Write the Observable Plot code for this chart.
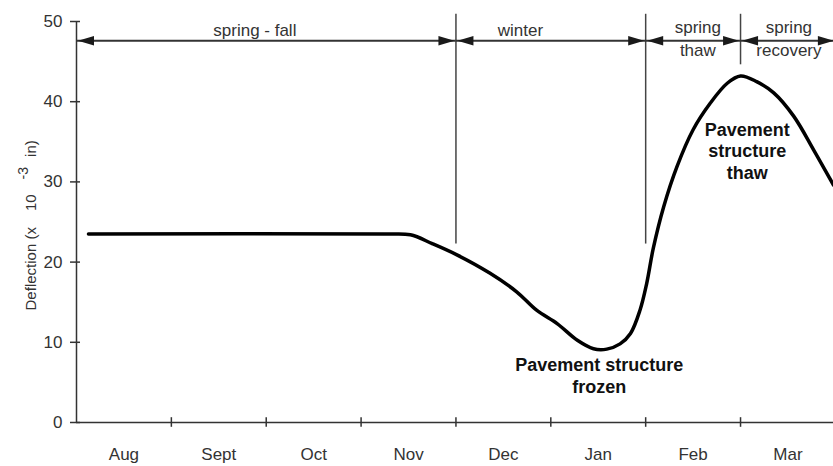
<!DOCTYPE html>
<html><head><meta charset="utf-8">
<script src="https://cdn.jsdelivr.net/npm/d3@7"></script>
<script src="https://cdn.jsdelivr.net/npm/@observablehq/plot@0.6"></script>
<style>
html,body{margin:0;padding:0;background:#fff;overflow:hidden;}
</style>
</head><body><div id="chart"></div>
<script>
// ---- data ----
const monthLabels = ["Aug", "Sept", "Oct", "Nov", "Dec", "Jan", "Feb", "Mar"];
const yTicks = [0, 10, 20, 30, 40, 50];
const curveMonth = [0.126, 3.25, 3.52, 3.75, 4.01, 4.36, 4.64, 4.85, 5.07, 5.28, 5.45, 5.59, 5.73, 5.84, 5.94, 6.01, 6.08, 6.19, 6.33, 6.50, 6.68, 6.86, 7.00, 7.17, 7.35, 7.56, 7.77, 7.98];
const curveDeflection = [23.5, 23.5, 23.4, 22.3, 20.9, 18.6, 16.3, 14.0, 12.3, 10.25, 9.2, 9.15, 9.8, 11.1, 14.0, 17.3, 21.7, 26.9, 31.9, 36.5, 39.8, 42.3, 43.2, 42.5, 41.1, 38.2, 34.0, 29.6];
const periodNames = ["spring - fall", "winter", "spring\nthaw", "spring\nrecovery"];
const periodStart = [0, 4, 6, 7];
const periodEnd = [4, 6, 7, 8];
const periodLabelMonth = [1.88, 4.68, 6.55, 7.51];
const periodLabelDeflection = [48.25, 48.25, 45.76, 45.76];
const arrowLevel = 47.6;
const dividerMonth = [4, 6, 7];
const dividerTop = [50.9, 50.9, 50.9];
const dividerBottom = [22.25, 22.25, 44.6];
const stateNames = ["Pavement structure\nfrozen", "Pavement\nstructure\nthaw"];
const stateMonth = [5.51, 7.07];
const stateDeflection = [3.74, 30.4];
const yLabelMain = "Deflection (x";
const yLabelTen = "10";
const yLabelExp = "-3";
const yLabelUnit = "in)";
const yLabelFull = `${yLabelMain} ${yLabelTen} ${yLabelExp} ${yLabelUnit}`;

// ---- tables ----
const curve = curveMonth.map((m, i) => ({month: m, deflection: curveDeflection[i]}));
const periods = periodNames.map((n, i) => ({name: n, start: periodStart[i], end: periodEnd[i], lx: periodLabelMonth[i], ly: periodLabelDeflection[i]}));
const dividers = dividerMonth.map((m, i) => ({month: m, top: dividerTop[i], bottom: dividerBottom[i]}));
const states = stateNames.map((n, i) => ({name: n, month: stateMonth[i], deflection: stateDeflection[i]}));
const boundaries = monthLabels.map((_, i) => i).filter(i => i > 0);
const mids = monthLabels.map((_, i) => i + 0.5);

const rightHead = {draw(ctx) { ctx.moveTo(0, 0); ctx.lineTo(-16, -4.8); ctx.lineTo(-16, 4.8); ctx.closePath(); }};
const leftHead = {draw(ctx) { ctx.moveTo(0, 0); ctx.lineTo(16, -4.8); ctx.lineTo(16, 4.8); ctx.closePath(); }};

const font = "'Liberation Sans', Arial, Helvetica, sans-serif";
const chart = Plot.plot({
  width: 833,
  height: 466,
  marginLeft: 76,
  marginRight: 0,
  marginTop: 21,
  marginBottom: 44,
  style: {fontFamily: font, fontSize: "17px", color: "#333", background: "#fff"},
  x: {domain: [0, 7.98], axis: null},
  y: {domain: [0, 50], axis: null},
  marks: [
    Plot.axisX(mids, {tickFormat: d => monthLabels[Math.floor(d)], tickSize: 0, tickPadding: 25, fontSize: 17, fill: "#333", label: null}),
    Plot.axisY(yTicks, {tickSize: 0, tickPadding: 14, fontSize: 17, fill: "#333", label: null}),
    Plot.ruleY([0], {x1: 0, x2: 7.98, stroke: "#333", strokeWidth: 1.5}),
    Plot.ruleX([0], {y1: 0, y2: 50, stroke: "#333", strokeWidth: 1.5}),
    Plot.ruleX(boundaries, {y1: -0.6, y2: 0.6, stroke: "#333", strokeWidth: 1.5}),
    Plot.ruleY(yTicks, {x1: -0.063, x2: 0.042, stroke: "#333", strokeWidth: 1.5}),
    Plot.ruleX(dividers, {x: "month", y1: "top", y2: "bottom", stroke: "#444", strokeWidth: 1.5}),
    Plot.ruleY(periods, {y: () => arrowLevel, x1: "start", x2: "end", stroke: "#333", strokeWidth: 2}),
    Plot.dot(periods, {x: "start", y: () => arrowLevel, symbol: leftHead, r: 5, fill: "#1a1a1a", stroke: "none", dx: 1.5}),
    Plot.dot(periods, {x: "end", y: () => arrowLevel, symbol: rightHead, r: 5, fill: "#1a1a1a", stroke: "none", dx: -1.5}),
    Plot.text(periods, {x: "lx", y: "ly", text: "name", lineAnchor: "bottom", lineHeight: 1.35, fontSize: 17, fill: "#333"}),
    Plot.line(curve, {x: "month", y: "deflection", curve: "catmull-rom", stroke: "#000", strokeWidth: 3.5}),
    Plot.text(states, {x: "month", y: "deflection", text: "name", lineAnchor: "bottom", lineHeight: 1.18, fontSize: 18, fontWeight: "bold", fill: "#111"}),
    Plot.text([yLabelFull], {x: () => -0.432, y: () => 13.97, text: d => d, rotate: -90, textAnchor: "start", lineAnchor: "bottom", fontSize: 15, fill: "#333"})
  ]
});
document.getElementById("chart").appendChild(chart);

// superscript for the y-axis label
d3.select(chart).selectAll("text").filter(function () { return this.textContent === yLabelFull; }).each(function () {
  const t = d3.select(this);
  t.text(null);
  t.append("tspan").text(yLabelMain);
  t.append("tspan").attr("dx", 16).text(yLabelTen);
  t.append("tspan").attr("dx", 15).attr("dy", -8).attr("font-size", 14).text(yLabelExp);
  t.append("tspan").attr("dx", 10).attr("dy", 8).text(yLabelUnit);
});
</script>
</body></html>
